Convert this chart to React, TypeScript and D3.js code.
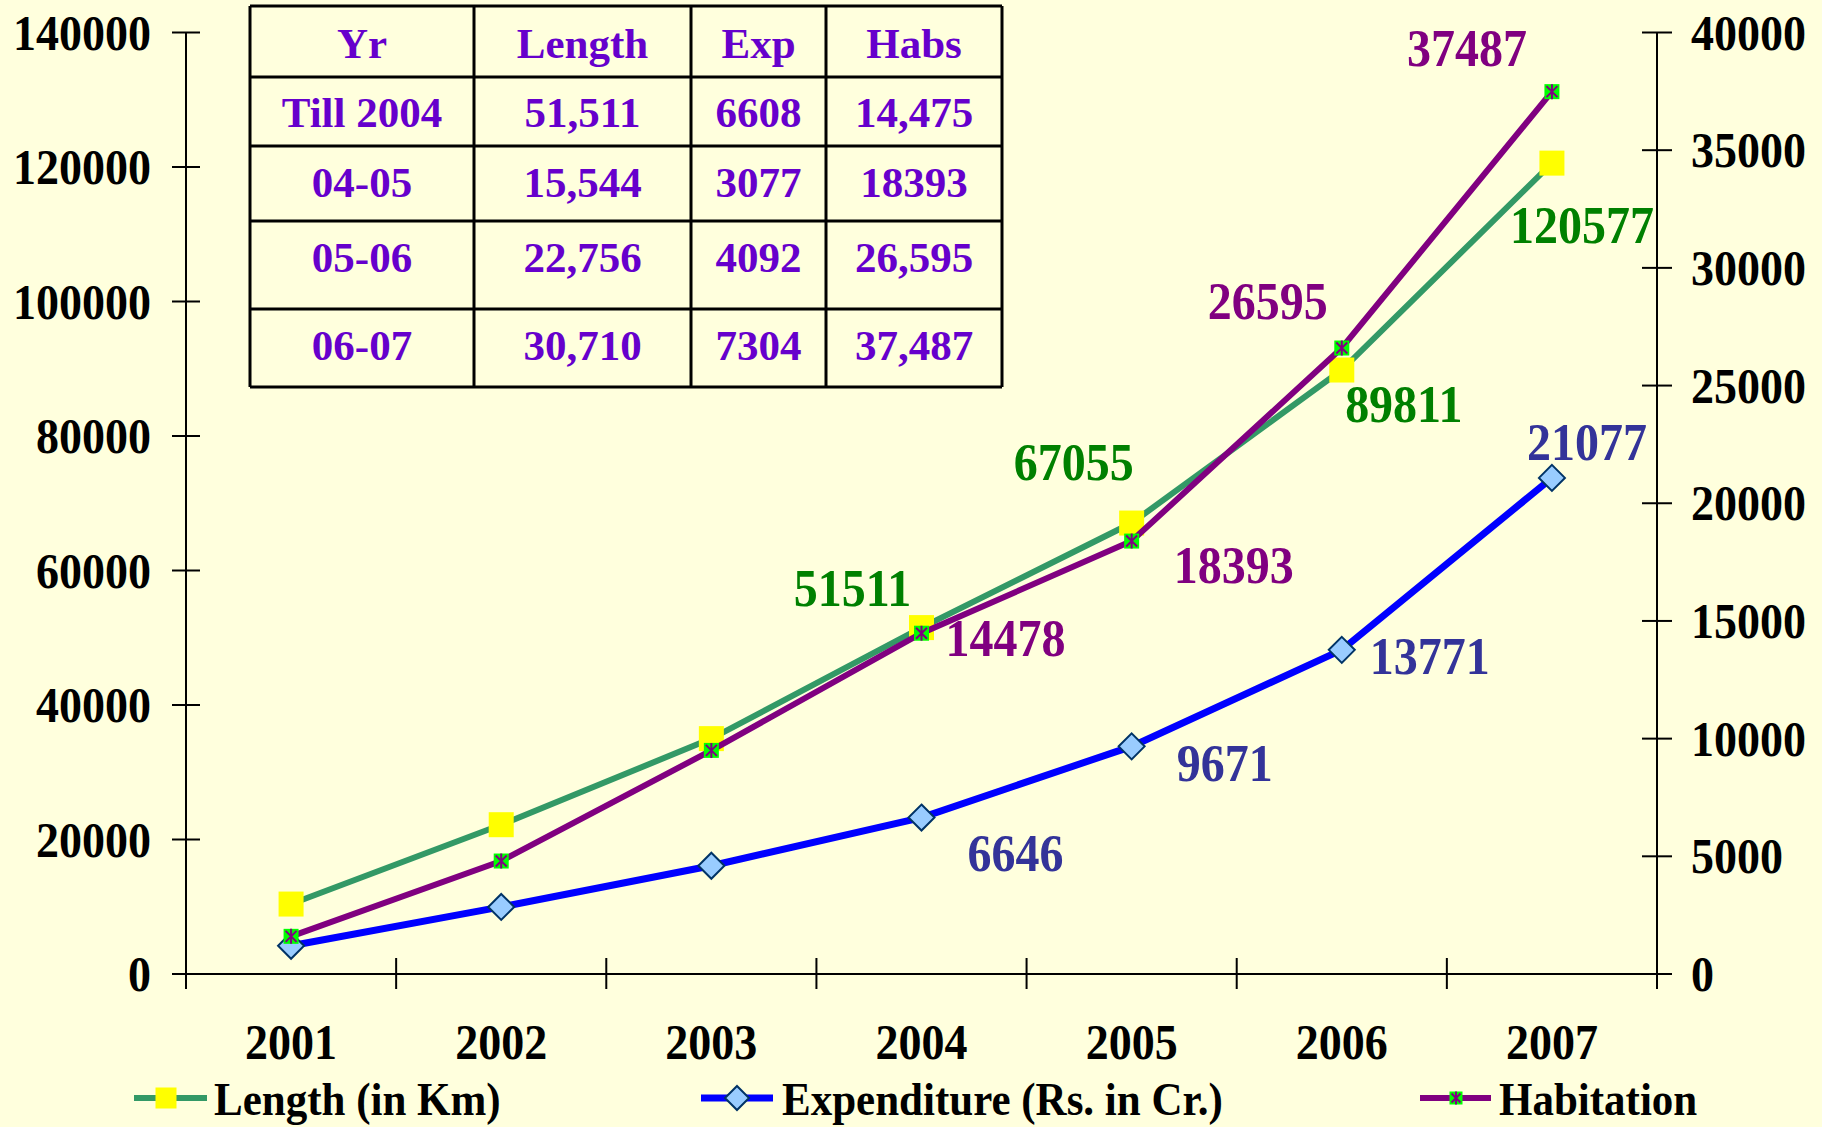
import React from 'react'
import * as d3 from 'd3'

const years = ['2001', '2002', '2003', '2004', '2005', '2006', '2007']
const lengthKm = [10400, 22200, 35000, 51511, 67055, 89811, 120577]
const expenditure = [1200, 2850, 4600, 6646, 9671, 13771, 21077]
const habitation = [1600, 4800, 9500, 14478, 18393, 26595, 37487]

const tableHeader = ['Yr', 'Length', 'Exp', 'Habs']
const tableRows = [
  ['Till 2004', '51,511', '6608', '14,475'],
  ['04-05', '15,544', '3077', '18393'],
  ['05-06', '22,756', '4092', '26,595'],
  ['06-07', '30,710', '7304', '37,487'],
]

const legendNames = ['Length (in Km)', 'Expenditure (Rs. in Cr.)', 'Habitation']

// hand placed label offsets (like the original slide)
const lengthLabelOff = [null, null, null, [-69, -39], [-58, -61], [62, 34], [30, 62]]
const expLabelOff = [null, null, null, [94, 36], [93, 17], [88, 6], [35, -36]]
const habLabelOff = [null, null, null, [84, 5], [102, 24], [-74, -47], [-85, -43]]

const W = 1822
const H = 1127
const bg = '#FFFFDD'
const font = '"Liberation Serif", "Times New Roman", serif'
const left = 186
const right = 1657
const top = 32.5
const bottom = 974

const T = ({ x, y, size, fill = '#000', anchor = 'middle', sy = 1.08, children }: any) => (
  <g transform={`translate(${x},${y}) scale(1,${sy})`}>
    <text
      fontFamily={font}
      fontWeight="bold"
      fontSize={size}
      fill={fill}
      textAnchor={anchor}
      dominantBaseline="central"
    >
      {children}
    </text>
  </g>
)

const Square = ({ x, y, s, fill }: any) => (
  <rect x={x - s / 2} y={y - s / 2} width={s} height={s} fill={fill} />
)
const Diamond = ({ x, y, s }: any) => (
  <path
    d={`M${x},${y - s / 2}L${x + s / 2},${y}L${x},${y + s / 2}L${x - s / 2},${y}Z`}
    fill="#99CCFF"
    stroke="#003366"
    strokeWidth={2}
  />
)
const Star = ({ x, y, s }: any) => (
  <g>
    <rect x={x - s / 2} y={y - s / 2} width={s} height={s} fill="#00FF00" />
    <path
      d={`M${x - s / 2 + 2},${y - s / 2 + 2}L${x + s / 2 - 2},${y + s / 2 - 2}M${x + s / 2 - 2},${y - s / 2 + 2}L${x - s / 2 + 2},${y + s / 2 - 2}M${x},${y - s / 2}L${x},${y + s / 2}`}
      stroke="#800080"
      strokeWidth={2}
    />
  </g>
)

export default function App() {
  const x = d3.scaleBand().domain(years).range([left, right])
  const cx = (d: string) => (x(d) as number) + x.bandwidth() / 2
  const yL = d3.scaleLinear().domain([0, 140000]).range([bottom, top])
  const yR = d3.scaleLinear().domain([0, 40000]).range([bottom, top])

  const lineL = d3.line<number>().x((_, i) => cx(years[i])).y((d) => yL(d))
  const lineR = d3.line<number>().x((_, i) => cx(years[i])).y((d) => yR(d))

  const colX = [250, 474, 691, 826, 1002]
  const rowY = [6, 77, 146, 221, 309, 387]
  const textY = [43, 112, 182, 257, 345]

  const labels = (vals: number[], y: any, offs: any[], color: string) =>
    vals.map((v, i) =>
      offs[i] ? (
        <T key={i} x={cx(years[i]) + offs[i][0]} y={y(v) + offs[i][1]} size={48} fill={color}>
          {String(v)}
        </T>
      ) : null
    )

  const legendX = [[134, 207, 166, 214], [701, 773, 737, 782], [1420, 1491, 1456, 1499]]
  const ly = 1098

  return (
    <svg width={W} height={H} style={{ position: 'fixed', left: 0, top: 0 }}>
      <rect width={W} height={H} fill={bg} />

      {/* table */}
      <g>
        {tableHeader.map((h, j) => (
          <T key={h} x={(colX[j] + colX[j + 1]) / 2} y={textY[0]} size={43} fill="#6600CC" sy={1}>
            {h}
          </T>
        ))}
        {tableRows.map((r, i) =>
          r.map((c, j) => (
            <T key={i + '-' + j} x={(colX[j] + colX[j + 1]) / 2} y={textY[i + 1]} size={43} fill="#6600CC" sy={1}>
              {c}
            </T>
          ))
        )}
        {rowY.map((ry) => (
          <line key={'r' + ry} x1={colX[0]} x2={colX[4]} y1={ry} y2={ry} stroke="#000" strokeWidth={3} />
        ))}
        {colX.map((c) => (
          <line key={'c' + c} x1={c} x2={c} y1={rowY[0]} y2={rowY[5]} stroke="#000" strokeWidth={3} />
        ))}
      </g>

      {/* axes */}
      <line x1={left} x2={left} y1={top} y2={bottom} stroke="#000" strokeWidth={2} />
      <line x1={right} x2={right} y1={top} y2={bottom} stroke="#000" strokeWidth={2} />
      <line x1={left - 14} x2={right + 15} y1={bottom} y2={bottom} stroke="#000" strokeWidth={2} />
      {yL.ticks(7).map((t) => (
        <g key={'l' + t}>
          <line x1={left - 14} x2={left + 14} y1={yL(t)} y2={yL(t)} stroke="#000" strokeWidth={2} />
          <T x={151} y={yL(t)} size={46} anchor="end">{String(t)}</T>
        </g>
      ))}
      {yR.ticks(8).map((t) => (
        <g key={'r' + t}>
          <line x1={right - 15} x2={right + 15} y1={yR(t)} y2={yR(t)} stroke="#000" strokeWidth={2} />
          <T x={1691} y={yR(t)} size={46} anchor="start">{String(t)}</T>
        </g>
      ))}
      {[...years.map((d) => x(d) as number), right].map((b) => (
        <line key={'b' + b} x1={b} x2={b} y1={bottom - 16} y2={bottom + 15} stroke="#000" strokeWidth={2} />
      ))}
      {years.map((d) => (
        <T key={d} x={cx(d)} y={1042} size={46}>{d}</T>
      ))}

      {/* series */}
      <path d={lineL(lengthKm) as string} fill="none" stroke="#339966" strokeWidth={6} />
      {lengthKm.map((v, i) => (
        <Square key={i} x={cx(years[i])} y={yL(v)} s={25} fill="#FFFF00" />
      ))}
      <path d={lineR(expenditure) as string} fill="none" stroke="#0000FF" strokeWidth={7} />
      {expenditure.map((v, i) => (
        <Diamond key={i} x={cx(years[i])} y={yR(v)} s={26} />
      ))}
      <path d={lineR(habitation) as string} fill="none" stroke="#800080" strokeWidth={6} />
      {habitation.map((v, i) => (
        <Star key={i} x={cx(years[i])} y={yR(v)} s={15} />
      ))}

      {labels(lengthKm, yL, lengthLabelOff, '#008000')}
      {labels(expenditure, yR, expLabelOff, '#333399')}
      {labels(habitation, yR, habLabelOff, '#800080')}

      {/* legend */}
      <line x1={legendX[0][0]} x2={legendX[0][1]} y1={ly} y2={ly} stroke="#339966" strokeWidth={6} />
      <Square x={legendX[0][2]} y={ly} s={21} fill="#FFFF00" />
      <line x1={legendX[1][0]} x2={legendX[1][1]} y1={ly} y2={ly} stroke="#0000FF" strokeWidth={7} />
      <Diamond x={legendX[1][2]} y={ly} s={24} />
      <line x1={legendX[2][0]} x2={legendX[2][1]} y1={ly} y2={ly} stroke="#800080" strokeWidth={6} />
      <Star x={legendX[2][2]} y={ly} s={13} />
      {legendNames.map((n, i) => (
        <T key={n} x={legendX[i][3]} y={ly + 2} size={43} anchor="start" sy={1.06}>{n}</T>
      ))}
    </svg>
  )
}
